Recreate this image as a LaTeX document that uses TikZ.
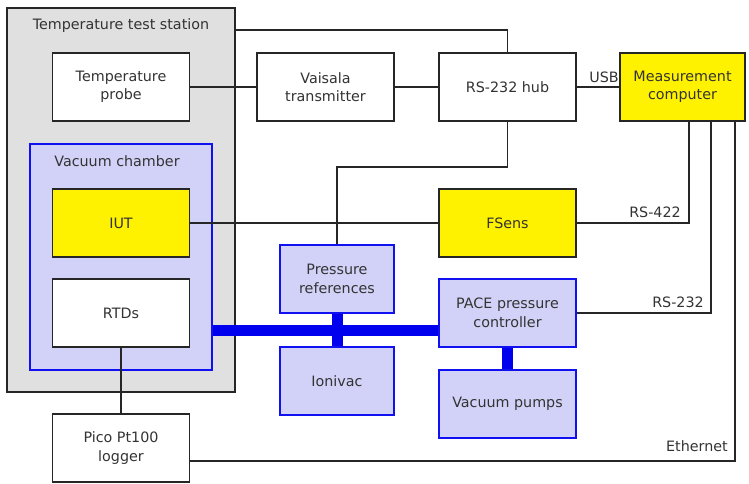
\documentclass[tikz,border=0pt]{standalone}
\usepackage{fontspec}
\setmainfont{DejaVu Sans}
\usetikzlibrary{calc}
\definecolor{txt}{HTML}{333333}
\definecolor{stationgray}{HTML}{E0E0E0}
\definecolor{lav}{HTML}{D2D2F8}
\definecolor{bblue}{HTML}{1010F0}
\definecolor{pipeblue}{HTML}{0000EE}
\tikzset{
  base/.style={rectangle, inner sep=0pt, align=center, text=txt,
    font=\fontsize{14.3}{18.5}\selectfont},
  whitebox/.style={base, draw=black!85, line width=1.8pt, fill=white,
    minimum width=137pt, minimum height=68pt},
  yellowbox/.style={whitebox, fill=yellow},
  bluebox/.style={base, draw=bblue, line width=1.8pt, fill=lav,
    minimum width=137pt, minimum height=68pt},
  wire/.style={draw=black!85, line width=1.8pt},
  pipe/.style={draw=pipeblue, line width=11pt},
  lbl/.style={base}
}
\begin{document}
\begin{tikzpicture}[x=1pt,y=-1pt]
\useasboundingbox (0,0) rectangle (749,483);
% station
\node[base, draw=black!85, line width=1.8pt, fill=stationgray,
  minimum width=228pt, minimum height=384pt] (station) at (121,200) {};
\node[lbl] (stationlbl) at (121,26) {Temperature test station};
% vacuum chamber
\node[base, draw=bblue, line width=1.8pt, fill=lav,
  minimum width=182pt, minimum height=226pt] (chamber) at (121,257) {};
\node[lbl] (chamberlbl) at (117,161) {Vacuum chamber};
% boxes
\node[whitebox] (probe) at (121,87) {Temperature\\probe};
\node[yellowbox] (iut) at (121,223) {IUT};
\node[whitebox] (rtd) at (121,313) {RTDs};
\node[whitebox] (pico) at (121,448) {Pico Pt100\\logger};
\node[whitebox] (vais) at (325.5,87) {Vaisala\\transmitter};
\node[whitebox] (hub) at (507.5,87) {RS-232 hub};
\node[yellowbox, minimum width=125pt] (comp) at (682.5,87) {Measurement\\computer};
\node[yellowbox] (fsens) at (507.5,223) {FSens};
\node[bluebox, minimum width=114pt] (pref) at (337,279) {Pressure\\references};
\node[bluebox, minimum width=114pt] (ion) at (337,381) {Ionivac};
\node[bluebox] (pace) at (507.5,313) {PACE pressure\\controller};
\node[bluebox] (pumps) at (507.5,404) {Vacuum pumps};
% pipes
\coordinate (pj) at ($(pref.south)!0.5!(ion.north)$);
\draw[pipe] (chamber.east |- pj) -- (pace.west |- pj);
\draw[pipe] (pref.south) -- (ion.north);
\draw[pipe] (pace.south) -- (pumps.north);
% wires
\draw[wire] ([yshift=-23pt]station.north east) -| (hub.north);
\draw[wire] (probe.east) -- (vais.west);
\draw[wire] (vais.east) -- (hub.west);
\draw[wire] (hub.east) -- (comp.west);
\draw[wire] (hub.south) -- ++(0,45) -| (pref.north);
\draw[wire] (iut.east) -- (fsens.west);
\draw[wire] (fsens.east) -| ([xshift=6.5pt]comp.south);
\draw[wire] (pace.east) -| ([xshift=28.5pt]comp.south);
\draw[wire] (rtd.south) -- (pico.north);
\draw[wire] ([yshift=-13pt]pico.east) -| ([xshift=52.5pt]comp.south);
% labels
\node[lbl] (usb) at (604,77) {USB};
\node[lbl] (rs422) at (655,212) {RS-422};
\node[lbl] (rs232) at (678,302) {RS-232};
\node[lbl] (eth) at (697,446) {Ethernet};
\end{tikzpicture}
\end{document}
